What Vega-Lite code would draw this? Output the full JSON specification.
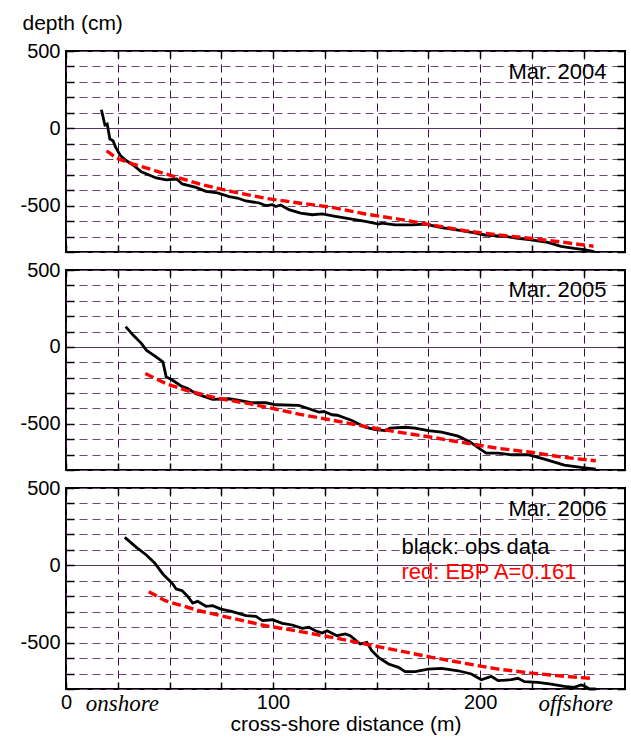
{
  "$schema": "https://vega.github.io/schema/vega-lite/v6.json",
  "padding": {"left": 18, "top": 11, "right": 5, "bottom": 0},
  "config": {
    "font": "Liberation Sans",
    "view": {"stroke": "black", "strokeWidth": 2},
    "concat": {"spacing": 18},
    "axis": {"domain": false, "labelFlush": false, "labelOverlap": false, "tickColor": "black", "tickWidth": 1.5, "titleFontWeight": "normal", "titleColor": "black", "labelColor": "black"}
  },
  "datasets": {
    "obs": [
      {"yr": 2004, "x": 17.1, "y": 120}, {"yr": 2004, "x": 18.8, "y": 21}, {"yr": 2004, "x": 19.9, "y": 28}, {"yr": 2004, "x": 21.2, "y": -69}, {"yr": 2004, "x": 22.7, "y": -80}, {"yr": 2004, "x": 24.0, "y": -123}, {"yr": 2004, "x": 26.3, "y": -177}, {"yr": 2004, "x": 29.2, "y": -210}, {"yr": 2004, "x": 32.4, "y": -237}, {"yr": 2004, "x": 36.4, "y": -281}, {"yr": 2004, "x": 43.6, "y": -321}, {"yr": 2004, "x": 48.4, "y": -334}, {"yr": 2004, "x": 53.5, "y": -328}, {"yr": 2004, "x": 56.1, "y": -360}, {"yr": 2004, "x": 62.8, "y": -382}, {"yr": 2004, "x": 67.6, "y": -408}, {"yr": 2004, "x": 73.2, "y": -418}, {"yr": 2004, "x": 78.8, "y": -442}, {"yr": 2004, "x": 82.7, "y": -451}, {"yr": 2004, "x": 86.9, "y": -470}, {"yr": 2004, "x": 93.3, "y": -483}, {"yr": 2004, "x": 96.5, "y": -500}, {"yr": 2004, "x": 99.7, "y": -494}, {"yr": 2004, "x": 101.3, "y": -506}, {"yr": 2004, "x": 103.7, "y": -496}, {"yr": 2004, "x": 107.7, "y": -526}, {"yr": 2004, "x": 113.3, "y": -548}, {"yr": 2004, "x": 118.9, "y": -559}, {"yr": 2004, "x": 123.7, "y": -554}, {"yr": 2004, "x": 130.1, "y": -569}, {"yr": 2004, "x": 138.1, "y": -587}, {"yr": 2004, "x": 144.6, "y": -602}, {"yr": 2004, "x": 151.0, "y": -619}, {"yr": 2004, "x": 152.6, "y": -613}, {"yr": 2004, "x": 159.0, "y": -625}, {"yr": 2004, "x": 167.0, "y": -625}, {"yr": 2004, "x": 173.4, "y": -619}, {"yr": 2004, "x": 181.4, "y": -643}, {"yr": 2004, "x": 189.4, "y": -658}, {"yr": 2004, "x": 197.4, "y": -677}, {"yr": 2004, "x": 202.2, "y": -690}, {"yr": 2004, "x": 211.9, "y": -699}, {"yr": 2004, "x": 218.3, "y": -712}, {"yr": 2004, "x": 224.7, "y": -721}, {"yr": 2004, "x": 232.7, "y": -738}, {"yr": 2004, "x": 239.1, "y": -764}, {"yr": 2004, "x": 245.5, "y": -777}, {"yr": 2004, "x": 250.3, "y": -785}, {"yr": 2004, "x": 255.2, "y": -798},
      {"yr": 2005, "x": 28.8, "y": 132}, {"yr": 2005, "x": 32.4, "y": 77}, {"yr": 2005, "x": 36.4, "y": 23}, {"yr": 2005, "x": 38.8, "y": -21}, {"yr": 2005, "x": 42.8, "y": -58}, {"yr": 2005, "x": 46.8, "y": -97}, {"yr": 2005, "x": 48.4, "y": -195}, {"yr": 2005, "x": 50.8, "y": -210}, {"yr": 2005, "x": 55.6, "y": -254}, {"yr": 2005, "x": 58.8, "y": -271}, {"yr": 2005, "x": 62.8, "y": -304}, {"yr": 2005, "x": 70.8, "y": -341}, {"yr": 2005, "x": 78.8, "y": -337}, {"yr": 2005, "x": 83.7, "y": -348}, {"yr": 2005, "x": 90.1, "y": -363}, {"yr": 2005, "x": 96.5, "y": -363}, {"yr": 2005, "x": 101.3, "y": -376}, {"yr": 2005, "x": 112.5, "y": -380}, {"yr": 2005, "x": 117.3, "y": -402}, {"yr": 2005, "x": 122.1, "y": -424}, {"yr": 2005, "x": 124.5, "y": -420}, {"yr": 2005, "x": 128.5, "y": -441}, {"yr": 2005, "x": 131.0, "y": -444}, {"yr": 2005, "x": 138.1, "y": -478}, {"yr": 2005, "x": 144.6, "y": -522}, {"yr": 2005, "x": 149.4, "y": -537}, {"yr": 2005, "x": 154.2, "y": -544}, {"yr": 2005, "x": 156.6, "y": -528}, {"yr": 2005, "x": 163.8, "y": -522}, {"yr": 2005, "x": 168.6, "y": -528}, {"yr": 2005, "x": 175.0, "y": -544}, {"yr": 2005, "x": 181.4, "y": -554}, {"yr": 2005, "x": 189.4, "y": -580}, {"yr": 2005, "x": 195.0, "y": -616}, {"yr": 2005, "x": 199.9, "y": -663}, {"yr": 2005, "x": 203.0, "y": -690}, {"yr": 2005, "x": 208.7, "y": -690}, {"yr": 2005, "x": 215.1, "y": -701}, {"yr": 2005, "x": 223.1, "y": -701}, {"yr": 2005, "x": 231.1, "y": -729}, {"yr": 2005, "x": 240.7, "y": -768}, {"yr": 2005, "x": 248.7, "y": -783}, {"yr": 2005, "x": 255.9, "y": -794},
      {"yr": 2006, "x": 28.4, "y": 181}, {"yr": 2006, "x": 34.0, "y": 116}, {"yr": 2006, "x": 38.8, "y": 67}, {"yr": 2006, "x": 42.8, "y": 15}, {"yr": 2006, "x": 46.8, "y": -56}, {"yr": 2006, "x": 51.6, "y": -121}, {"yr": 2006, "x": 53.2, "y": -153}, {"yr": 2006, "x": 56.1, "y": -164}, {"yr": 2006, "x": 58.8, "y": -201}, {"yr": 2006, "x": 61.2, "y": -244}, {"yr": 2006, "x": 63.6, "y": -233}, {"yr": 2006, "x": 67.6, "y": -265}, {"yr": 2006, "x": 70.8, "y": -261}, {"yr": 2006, "x": 74.8, "y": -283}, {"yr": 2006, "x": 80.4, "y": -300}, {"yr": 2006, "x": 86.9, "y": -326}, {"yr": 2006, "x": 91.7, "y": -330}, {"yr": 2006, "x": 94.9, "y": -358}, {"yr": 2006, "x": 99.7, "y": -352}, {"yr": 2006, "x": 104.5, "y": -375}, {"yr": 2006, "x": 109.3, "y": -386}, {"yr": 2006, "x": 114.1, "y": -408}, {"yr": 2006, "x": 117.3, "y": -401}, {"yr": 2006, "x": 120.5, "y": -423}, {"yr": 2006, "x": 123.7, "y": -438}, {"yr": 2006, "x": 126.1, "y": -423}, {"yr": 2006, "x": 130.9, "y": -455}, {"yr": 2006, "x": 134.9, "y": -444}, {"yr": 2006, "x": 137.3, "y": -455}, {"yr": 2006, "x": 142.1, "y": -509}, {"yr": 2006, "x": 145.3, "y": -498}, {"yr": 2006, "x": 147.7, "y": -552}, {"yr": 2006, "x": 150.9, "y": -595}, {"yr": 2006, "x": 155.8, "y": -638}, {"yr": 2006, "x": 160.6, "y": -660}, {"yr": 2006, "x": 163.8, "y": -688}, {"yr": 2006, "x": 168.6, "y": -688}, {"yr": 2006, "x": 175.0, "y": -671}, {"yr": 2006, "x": 181.4, "y": -666}, {"yr": 2006, "x": 189.4, "y": -682}, {"yr": 2006, "x": 195.8, "y": -703}, {"yr": 2006, "x": 200.6, "y": -740}, {"yr": 2006, "x": 205.4, "y": -718}, {"yr": 2006, "x": 208.7, "y": -746}, {"yr": 2006, "x": 215.1, "y": -740}, {"yr": 2006, "x": 218.3, "y": -731}, {"yr": 2006, "x": 221.5, "y": -753}, {"yr": 2006, "x": 227.9, "y": -757}, {"yr": 2006, "x": 234.3, "y": -768}, {"yr": 2006, "x": 240.7, "y": -783}, {"yr": 2006, "x": 245.5, "y": -789}, {"yr": 2006, "x": 248.7, "y": -774}, {"yr": 2006, "x": 250.3, "y": -780}, {"yr": 2006, "x": 252.7, "y": -800}, {"yr": 2006, "x": 255.9, "y": -800}
    ],
    "ebp": [
      {"yr": 2004, "x": 19.6, "y": -145}, {"yr": 2004, "x": 24.4, "y": -194}, {"yr": 2004, "x": 32.4, "y": -231}, {"yr": 2004, "x": 48.4, "y": -296}, {"yr": 2004, "x": 64.4, "y": -360}, {"yr": 2004, "x": 80.3, "y": -410}, {"yr": 2004, "x": 96.4, "y": -453}, {"yr": 2004, "x": 112.5, "y": -483}, {"yr": 2004, "x": 128.5, "y": -511}, {"yr": 2004, "x": 144.6, "y": -554}, {"yr": 2004, "x": 160.6, "y": -587}, {"yr": 2004, "x": 176.6, "y": -625}, {"yr": 2004, "x": 192.6, "y": -662}, {"yr": 2004, "x": 208.7, "y": -690}, {"yr": 2004, "x": 224.7, "y": -712}, {"yr": 2004, "x": 240.7, "y": -738}, {"yr": 2004, "x": 254.8, "y": -763},
      {"yr": 2005, "x": 38.3, "y": -173}, {"yr": 2005, "x": 48.4, "y": -239}, {"yr": 2005, "x": 58.0, "y": -282}, {"yr": 2005, "x": 72.4, "y": -332}, {"yr": 2005, "x": 88.5, "y": -369}, {"yr": 2005, "x": 104.5, "y": -413}, {"yr": 2005, "x": 112.5, "y": -437}, {"yr": 2005, "x": 122.0, "y": -460}, {"yr": 2005, "x": 128.5, "y": -476}, {"yr": 2005, "x": 144.6, "y": -518}, {"yr": 2005, "x": 160.6, "y": -554}, {"yr": 2005, "x": 176.6, "y": -587}, {"yr": 2005, "x": 192.6, "y": -624}, {"yr": 2005, "x": 208.7, "y": -659}, {"yr": 2005, "x": 224.7, "y": -685}, {"yr": 2005, "x": 240.7, "y": -718}, {"yr": 2005, "x": 255.9, "y": -740},
      {"yr": 2006, "x": 40.0, "y": -171}, {"yr": 2006, "x": 47.9, "y": -229}, {"yr": 2006, "x": 64.4, "y": -294}, {"yr": 2006, "x": 80.4, "y": -343}, {"yr": 2006, "x": 96.5, "y": -391}, {"yr": 2006, "x": 112.5, "y": -427}, {"yr": 2006, "x": 128.5, "y": -466}, {"yr": 2006, "x": 144.6, "y": -509}, {"yr": 2006, "x": 160.6, "y": -552}, {"yr": 2006, "x": 176.6, "y": -595}, {"yr": 2006, "x": 192.6, "y": -634}, {"yr": 2006, "x": 208.7, "y": -671}, {"yr": 2006, "x": 224.7, "y": -697}, {"yr": 2006, "x": 240.7, "y": -718}, {"yr": 2006, "x": 253.5, "y": -731}
    ],
    "notes": [
      {"yr": 2004, "kind": "panel", "label": "Mar. 2004", "x": 261, "y": 320},
      {"yr": 2005, "kind": "panel", "label": "Mar. 2005", "x": 261, "y": 322},
      {"yr": 2006, "kind": "panel", "label": "Mar. 2006", "x": 261, "y": 320},
      {"yr": 2006, "kind": "obs", "label": "black: obs data", "x": 162, "y": 73},
      {"yr": 2006, "kind": "ebp", "label": "red: EBP A=0.161", "x": 162, "y": -89}
    ]
  },
  "vconcat": [
    {
      "width": 559, "height": 201,
      "layer": [
        {"data": {"name": "obs"}, "transform": [{"filter": "datum.yr == 2004"}],
         "mark": {"type": "line", "color": "black", "strokeWidth": 2.8},
         "encoding": {
           "x": {"field": "x", "type": "quantitative", "scale": {"domain": [0, 270], "nice": false, "zero": false},
                 "axis": {"orient": "bottom", "values": [0,25,50,75,100,125,150,175,200,225,250], "labels": false, "title": null, "grid": true, "gridColor": "#3a1042", "gridDash": [8,5], "gridWidth": 1, "tickSize": -7}},
           "y": {"field": "y", "type": "quantitative", "scale": {"domain": [-800, 500], "nice": false, "zero": false},
                 "axis": {"orient": "left", "values": [-800,-700,-600,-500,-400,-300,-200,-100,0,100,200,300,400,500], "labelExpr": "datum.value===500?'500':datum.value===0?'0':datum.value===-500?'-500':''", "labelFontSize": 20, "labelPadding": 14, "tickSize": -8, "grid": true, "gridColor": {"condition": {"test": "datum.value===0", "value": "#5a3468"}, "value": "#6a4a72"}, "gridDash": {"condition": {"test": "datum.value===0", "value": []}, "value": [8,5]}, "gridWidth": 1.2,
                          "title": "depth (cm)", "titleAngle": 0, "titleAlign": "left", "titleBaseline": "alphabetic", "titleX": -44, "titleY": -22, "titleFontSize": 21}}
         }},
        {"data": {"name": "ebp"}, "transform": [{"filter": "datum.yr == 2004"}],
         "mark": {"type": "line", "color": "#ff0000", "strokeWidth": 3.4, "strokeDash": [9,4]},
         "encoding": {
           "x": {"field": "x", "type": "quantitative", "axis": {"orient": "top", "values": [0,25,50,75,100,125,150,175,200,225,250], "labels": false, "title": null, "grid": false, "tickSize": -7}},
           "y": {"field": "y", "type": "quantitative", "axis": {"orient": "right", "values": [-800,-700,-600,-500,-400,-300,-200,-100,0,100,200,300,400,500], "labels": false, "title": null, "grid": false, "tickSize": -8}}
         }},
        {"data": {"name": "notes"}, "transform": [{"filter": "datum.yr == 2004 && datum.kind == 'panel'"}],
         "mark": {"type": "text", "align": "right", "baseline": "alphabetic", "fontSize": 22, "color": "black"},
         "encoding": {
           "x": {"field": "x", "type": "quantitative", "axis": null},
           "y": {"field": "y", "type": "quantitative", "axis": null},
           "text": {"field": "label"}
         }}
      ],
      "resolve": {"axis": {"x": "independent", "y": "independent"}}
    },
    {
      "width": 559, "height": 200,
      "layer": [
        {"data": {"name": "obs"}, "transform": [{"filter": "datum.yr == 2005"}],
         "mark": {"type": "line", "color": "black", "strokeWidth": 2.8},
         "encoding": {
           "x": {"field": "x", "type": "quantitative", "scale": {"domain": [0, 270], "nice": false, "zero": false},
                 "axis": {"orient": "bottom", "values": [0,25,50,75,100,125,150,175,200,225,250], "labels": false, "title": null, "grid": true, "gridColor": "#3a1042", "gridDash": [8,5], "gridWidth": 1, "tickSize": -7}},
           "y": {"field": "y", "type": "quantitative", "scale": {"domain": [-800, 500], "nice": false, "zero": false},
                 "axis": {"orient": "left", "values": [-800,-700,-600,-500,-400,-300,-200,-100,0,100,200,300,400,500], "labelExpr": "datum.value===500?'500':datum.value===0?'0':datum.value===-500?'-500':''", "labelFontSize": 20, "labelPadding": 14, "tickSize": -8, "grid": true, "gridColor": {"condition": {"test": "datum.value===0", "value": "#5a3468"}, "value": "#6a4a72"}, "gridDash": {"condition": {"test": "datum.value===0", "value": []}, "value": [8,5]}, "gridWidth": 1.2, "title": null}}
         }},
        {"data": {"name": "ebp"}, "transform": [{"filter": "datum.yr == 2005"}],
         "mark": {"type": "line", "color": "#ff0000", "strokeWidth": 3.4, "strokeDash": [9,4]},
         "encoding": {
           "x": {"field": "x", "type": "quantitative", "axis": {"orient": "top", "values": [0,25,50,75,100,125,150,175,200,225,250], "labels": false, "title": null, "grid": false, "tickSize": -7}},
           "y": {"field": "y", "type": "quantitative", "axis": {"orient": "right", "values": [-800,-700,-600,-500,-400,-300,-200,-100,0,100,200,300,400,500], "labels": false, "title": null, "grid": false, "tickSize": -8}}
         }},
        {"data": {"name": "notes"}, "transform": [{"filter": "datum.yr == 2005 && datum.kind == 'panel'"}],
         "mark": {"type": "text", "align": "right", "baseline": "alphabetic", "fontSize": 22, "color": "black"},
         "encoding": {
           "x": {"field": "x", "type": "quantitative", "axis": null},
           "y": {"field": "y", "type": "quantitative", "axis": null},
           "text": {"field": "label"}
         }}
      ],
      "resolve": {"axis": {"x": "independent", "y": "independent"}}
    },
    {
      "width": 559, "height": 201,
      "layer": [
        {"data": {"name": "obs"}, "transform": [{"filter": "datum.yr == 2006"}],
         "mark": {"type": "line", "color": "black", "strokeWidth": 2.8},
         "encoding": {
           "x": {"field": "x", "type": "quantitative", "scale": {"domain": [0, 270], "nice": false, "zero": false},
                 "axis": {"orient": "bottom", "values": [0,25,27,50,75,100,125,150,175,200,225,246,250],
                          "labelExpr": "datum.value===0?'0':datum.value===100?'100':datum.value===200?'200':datum.value===27?'onshore':datum.value===246?'offshore':''",
                          "labelFont": {"condition": {"test": "datum.value===27||datum.value===246", "value": "Liberation Serif"}, "value": "Liberation Sans"},
                          "labelFontStyle": {"condition": {"test": "datum.value===27||datum.value===246", "value": "italic"}, "value": "normal"},
                          "labelFontSize": {"condition": {"test": "datum.value===27||datum.value===246", "value": 23}, "value": 20},
                          "labelPadding": 10,
                          "tickOpacity": {"condition": {"test": "datum.value===27||datum.value===246", "value": 0}, "value": 1},
                          "gridOpacity": {"condition": {"test": "datum.value===27||datum.value===246", "value": 0}, "value": 1},
                          "title": "cross-shore distance (m)", "titleFontSize": 21, "titlePadding": -2,
                          "grid": true, "gridColor": "#3a1042", "gridDash": [8,5], "gridWidth": 1, "tickSize": -7}},
           "y": {"field": "y", "type": "quantitative", "scale": {"domain": [-800, 500], "nice": false, "zero": false},
                 "axis": {"orient": "left", "values": [-800,-700,-600,-500,-400,-300,-200,-100,0,100,200,300,400,500], "labelExpr": "datum.value===500?'500':datum.value===0?'0':datum.value===-500?'-500':''", "labelFontSize": 20, "labelPadding": 14, "tickSize": -8, "grid": true, "gridColor": {"condition": {"test": "datum.value===0", "value": "#5a3468"}, "value": "#6a4a72"}, "gridDash": {"condition": {"test": "datum.value===0", "value": []}, "value": [8,5]}, "gridWidth": 1.2, "title": null}}
         }},
        {"data": {"name": "ebp"}, "transform": [{"filter": "datum.yr == 2006"}],
         "mark": {"type": "line", "color": "#ff0000", "strokeWidth": 3.4, "strokeDash": [9,4]},
         "encoding": {
           "x": {"field": "x", "type": "quantitative", "axis": {"orient": "top", "values": [0,25,50,75,100,125,150,175,200,225,250], "labels": false, "title": null, "grid": false, "tickSize": -7}},
           "y": {"field": "y", "type": "quantitative", "axis": {"orient": "right", "values": [-800,-700,-600,-500,-400,-300,-200,-100,0,100,200,300,400,500], "labels": false, "title": null, "grid": false, "tickSize": -8}}
         }},
        {"data": {"name": "notes"}, "transform": [{"filter": "datum.yr == 2006 && datum.kind == 'panel'"}],
         "mark": {"type": "text", "align": "right", "baseline": "alphabetic", "fontSize": 22, "color": "black"},
         "encoding": {
           "x": {"field": "x", "type": "quantitative", "axis": null},
           "y": {"field": "y", "type": "quantitative", "axis": null},
           "text": {"field": "label"}
         }},
        {"data": {"name": "notes"}, "transform": [{"filter": "datum.kind == 'obs'"}],
         "mark": {"type": "text", "align": "left", "baseline": "alphabetic", "fontSize": 22, "color": "black"},
         "encoding": {
           "x": {"field": "x", "type": "quantitative", "axis": null},
           "y": {"field": "y", "type": "quantitative", "axis": null},
           "text": {"field": "label"}
         }},
        {"data": {"name": "notes"}, "transform": [{"filter": "datum.kind == 'ebp'"}],
         "mark": {"type": "text", "align": "left", "baseline": "alphabetic", "fontSize": 22, "color": "#ff0000"},
         "encoding": {
           "x": {"field": "x", "type": "quantitative", "axis": null},
           "y": {"field": "y", "type": "quantitative", "axis": null},
           "text": {"field": "label"}
         }}
      ],
      "resolve": {"axis": {"x": "independent", "y": "independent"}}
    }
  ],
  "bounds": "flush"
}
